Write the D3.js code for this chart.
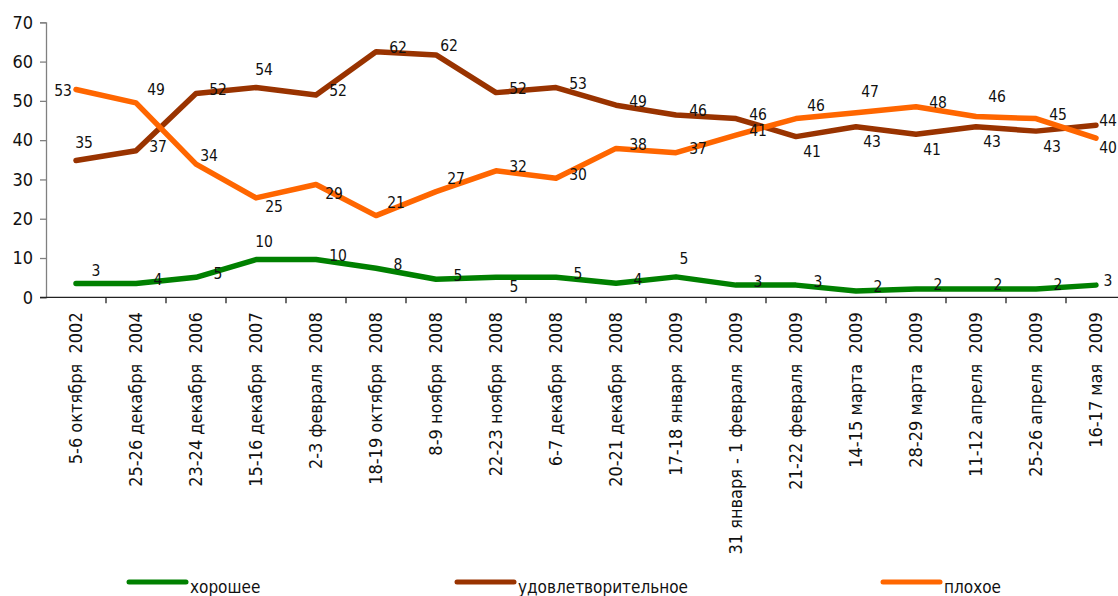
<!DOCTYPE html>
<html>
<head>
<meta charset="utf-8">
<script src="https://cdn.jsdelivr.net/npm/d3@7"></script>
<style>
  html, body { margin: 0; padding: 0; background: #fff; }
  svg { display: block; font-family: "DejaVu Sans Condensed", "DejaVu Sans", sans-serif; font-stretch: condensed; }
</style>
</head>
<body>
<svg id="chart" width="1118" height="596"></svg>
<script>
const categories = [
  "5-6 октября  2002", "25-26 декабря  2004", "23-24 декабря  2006", "15-16 декабря  2007",
  "2-3 февраля  2008", "18-19 октября  2008", "8-9 ноября  2008", "22-23 ноября  2008",
  "6-7 декабря  2008", "20-21 декабря  2008", "17-18 января  2009", "31 января - 1 февраля  2009",
  "21-22 февраля  2009", "14-15 марта  2009", "28-29 марта  2009", "11-12 апреля  2009",
  "25-26 апреля  2009", "16-17 мая  2009"
];
const seriesNames = ["хорошее", "удовлетворительное", "плохое"];

// line values
const good  = [3.5, 3.5, 5.1, 9.6, 9.6, 7.4, 4.6, 5.1, 5.1, 3.6, 5.2, 3.1, 3.1, 1.6, 2.1, 2.1, 2.1, 3.1];
const fair  = [34.8, 37.3, 51.9, 53.4, 51.5, 62.5, 61.7, 52.1, 53.4, 48.9, 46.4, 45.5, 40.9, 43.4, 41.5, 43.4, 42.3, 43.8];
const bad   = [52.9, 49.5, 33.9, 25.3, 28.7, 20.8, 26.9, 32.2, 30.3, 37.9, 36.8, 41.3, 45.5, 47.0, 48.5, 46.0, 45.5, 40.5];

// printed data labels
const goodLabels = [3, 4, 5, 10, 10, 8, 5, 5, 5, 4, 5, 3, 3, 2, 2, 2, 2, 3];
const fairLabels = [35, 37, 52, 54, 52, 62, 62, 52, 53, 49, 46, 46, 41, 43, 41, 43, 43, 44];
const badLabels  = [53, 49, 34, 25, 29, 21, 27, 32, 30, 38, 37, 41, 46, 47, 48, 46, 45, 40];

// label placement codes
const goodPlace = ["ur","r","r","a","r","r","r","dr","r","r","a","r","r","r","r","r","r","er"];
const fairPlace = ["a","r","r","a","r","r","ur2","r","r","r","r","r","b","b","b","b","b","er"];
const badPlace  = ["l","ur","ur2","dr","dr","ur","ur","r","r","r","r","r","ur","a2","r","ua","r","ed"];

const yTicks = [0, 10, 20, 30, 40, 50, 60, 70];

const colors = ["#008000", "#993300", "#FF6600"];

const svg = d3.select("#chart");
const x = d3.scaleBand().domain(categories).range([46, 1126]).padding(0);
const y = d3.scaleLinear().domain([0, 70]).range([297.3, 22.3]);

// axes
const yAxis = svg.append("g").attr("transform", "translate(46,0)")
  .call(d3.axisLeft(y).tickValues(yTicks).tickSize(6).tickPadding(7).tickFormat(d3.format("d")));
yAxis.select(".domain").attr("stroke", "#808080").attr("stroke-width", 1.3);
yAxis.selectAll(".tick line").attr("stroke", "#808080").attr("stroke-width", 1.3);
yAxis.selectAll("text").attr("font-size", 18).attr("fill", "#111")
  .attr("font-family", "'DejaVu Sans Condensed', 'DejaVu Sans', sans-serif");

const xAxisG = svg.append("g").attr("transform", `translate(0,${y(0)})`);
xAxisG.append("line").attr("x1", 40).attr("x2", 1126).attr("y1", 0).attr("y2", 0)
  .attr("stroke", "#222").attr("stroke-width", 1.3);
const bounds = categories.map(c => x(c)).concat([x(categories[categories.length - 1]) + x.bandwidth()]);
xAxisG.selectAll("line.tk").data(bounds.slice(1)).join("line").attr("class", "tk")
  .attr("x1", d => d).attr("x2", d => d).attr("y1", 0).attr("y2", 6)
  .attr("stroke", "#222").attr("stroke-width", 1.3);
xAxisG.selectAll("text").data(categories).join("text")
  .attr("transform", d => `translate(${x(d) + x.bandwidth() / 2},15) rotate(-90)`)
  .attr("text-anchor", "end").attr("dy", "0.36em")
  .attr("font-size", 18).attr("fill", "#111")
  .attr("xml:space", "preserve").style("white-space", "pre")
  .text(d => d);

// lines
const line = d3.line().x((d, i) => x(categories[i]) + x.bandwidth() / 2).y(d => y(d));
const seriesData = [good, fair, bad];
const order = [1, 2, 0];
order.forEach(k => {
  svg.append("path").datum(seriesData[k]).attr("d", line)
    .attr("fill", "none").attr("stroke", colors[k]).attr("stroke-width", 5.5)
    .attr("stroke-linecap", "round").attr("stroke-linejoin", "round");
});

// data labels
const offsets = {
  r: [22, -4], a: [8, -18], a2: [14, -21], ua: [21, -20], ur: [20, -13], ur2: [13, -9],
  dr: [18, 9], b: [16, 15], l: [-13, 1], er: [12, -5], ed: [12, 9]
};
const labelSets = [[good, goodLabels, goodPlace], [fair, fairLabels, fairPlace], [bad, badLabels, badPlace]];
labelSets.forEach(([vals, labs, place]) => {
  svg.append("g").selectAll("text").data(labs).join("text")
    .attr("x", (d, i) => x(categories[i]) + x.bandwidth() / 2 + offsets[place[i]][0])
    .attr("y", (d, i) => y(vals[i]) + offsets[place[i]][1])
    .attr("dy", "0.35em").attr("text-anchor", "middle")
    .attr("font-size", 15.5).attr("fill", "#111")
    .text(d => d);
});

// legend
const legendX = [129, 457, 883];
const lg = svg.append("g");
seriesNames.forEach((name, k) => {
  lg.append("line").attr("x1", legendX[k]).attr("x2", legendX[k] + 57).attr("y1", 582).attr("y2", 582)
    .attr("stroke", colors[k]).attr("stroke-width", 5).attr("stroke-linecap", "round");
  lg.append("text").attr("x", legendX[k] + 61).attr("y", 593)
    .attr("font-size", 17).attr("fill", "#111").text(name);
});
</script>
</body>
</html>
